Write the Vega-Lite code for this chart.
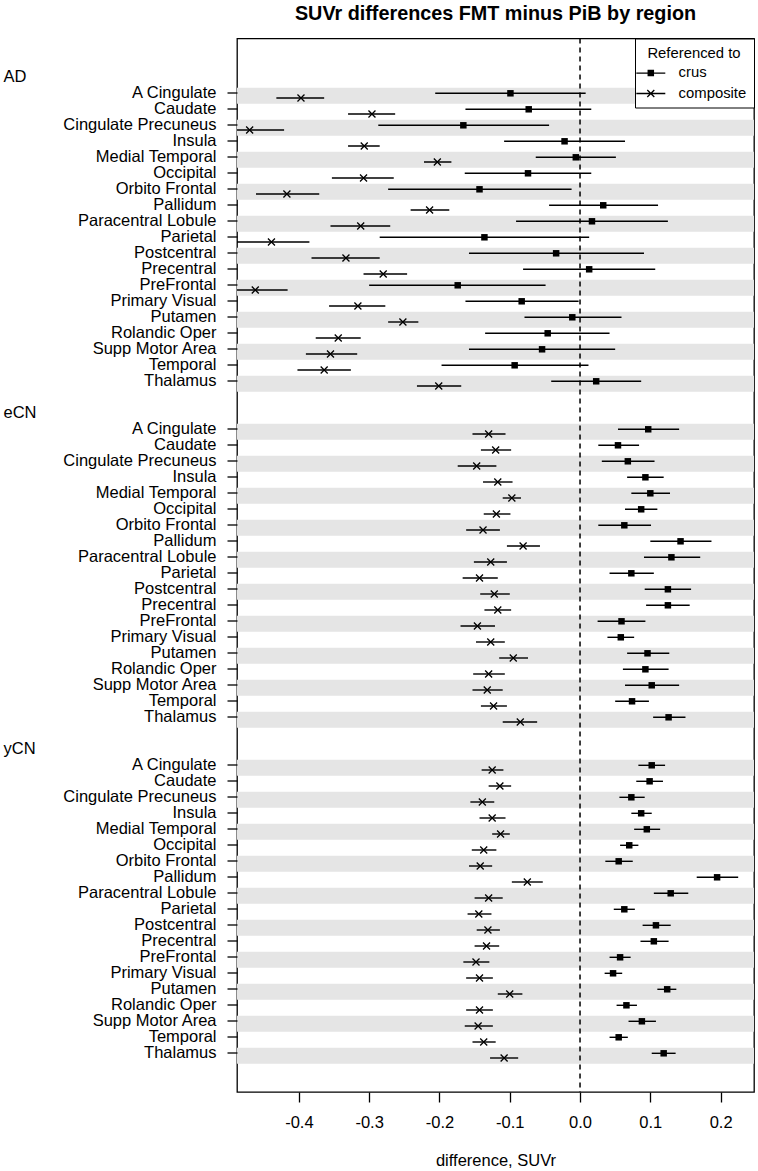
{
  "$schema": "https://vega.github.io/schema/vega-lite/v6.json",
  "width": 517,
  "height": 1053.5,
  "autosize": {"type": "none"},
  "padding": {"left": 237, "top": 38.5, "right": 4, "bottom": 79},
  "title": {"text": "SUVr differences FMT minus PiB by region", "fontSize": 19.8, "fontWeight": "bold", "anchor": "middle", "frame": "group", "offset": 14, "color": "black", "font": "Liberation Sans"},
  "config": {
    "font": "Liberation Sans",
    "view": {"stroke": "black", "strokeWidth": 1.3}
  },
  "data": {"values": [
    {"group":"AD","region":"A Cingulate","ref":"crus","est":-0.099,"lo":-0.206,"hi":0.008},
    {"group":"AD","region":"Caudate","ref":"crus","est":-0.073,"lo":-0.163,"hi":0.016},
    {"group":"AD","region":"Cingulate Precuneus","ref":"crus","est":-0.166,"lo":-0.287,"hi":-0.044},
    {"group":"AD","region":"Insula","ref":"crus","est":-0.022,"lo":-0.108,"hi":0.064},
    {"group":"AD","region":"Medial Temporal","ref":"crus","est":-0.006,"lo":-0.063,"hi":0.051},
    {"group":"AD","region":"Occipital","ref":"crus","est":-0.074,"lo":-0.164,"hi":0.016},
    {"group":"AD","region":"Orbito Frontal","ref":"crus","est":-0.143,"lo":-0.273,"hi":-0.012},
    {"group":"AD","region":"Pallidum","ref":"crus","est":0.033,"lo":-0.044,"hi":0.111},
    {"group":"AD","region":"Paracentral Lobule","ref":"crus","est":0.017,"lo":-0.091,"hi":0.125},
    {"group":"AD","region":"Parietal","ref":"crus","est":-0.136,"lo":-0.285,"hi":0.013},
    {"group":"AD","region":"Postcentral","ref":"crus","est":-0.034,"lo":-0.158,"hi":0.091},
    {"group":"AD","region":"Precentral","ref":"crus","est":0.013,"lo":-0.081,"hi":0.107},
    {"group":"AD","region":"PreFrontal","ref":"crus","est":-0.174,"lo":-0.300,"hi":-0.049},
    {"group":"AD","region":"Primary Visual","ref":"crus","est":-0.083,"lo":-0.163,"hi":-0.002},
    {"group":"AD","region":"Putamen","ref":"crus","est":-0.011,"lo":-0.079,"hi":0.059},
    {"group":"AD","region":"Rolandic Oper","ref":"crus","est":-0.046,"lo":-0.135,"hi":0.042},
    {"group":"AD","region":"Supp Motor Area","ref":"crus","est":-0.054,"lo":-0.158,"hi":0.050},
    {"group":"AD","region":"Temporal","ref":"crus","est":-0.093,"lo":-0.197,"hi":0.012},
    {"group":"AD","region":"Thalamus","ref":"crus","est":0.023,"lo":-0.041,"hi":0.087},
    {"group":"AD","region":"A Cingulate","ref":"composite","est":-0.397,"lo":-0.432,"hi":-0.364},
    {"group":"AD","region":"Caudate","ref":"composite","est":-0.296,"lo":-0.330,"hi":-0.263},
    {"group":"AD","region":"Cingulate Precuneus","ref":"composite","est":-0.470,"lo":-0.519,"hi":-0.421},
    {"group":"AD","region":"Insula","ref":"composite","est":-0.307,"lo":-0.330,"hi":-0.285},
    {"group":"AD","region":"Medial Temporal","ref":"composite","est":-0.203,"lo":-0.222,"hi":-0.183},
    {"group":"AD","region":"Occipital","ref":"composite","est":-0.308,"lo":-0.353,"hi":-0.265},
    {"group":"AD","region":"Orbito Frontal","ref":"composite","est":-0.417,"lo":-0.461,"hi":-0.371},
    {"group":"AD","region":"Pallidum","ref":"composite","est":-0.214,"lo":-0.241,"hi":-0.186},
    {"group":"AD","region":"Paracentral Lobule","ref":"composite","est":-0.312,"lo":-0.355,"hi":-0.270},
    {"group":"AD","region":"Parietal","ref":"composite","est":-0.439,"lo":-0.494,"hi":-0.385},
    {"group":"AD","region":"Postcentral","ref":"composite","est":-0.333,"lo":-0.382,"hi":-0.285},
    {"group":"AD","region":"Precentral","ref":"composite","est":-0.280,"lo":-0.308,"hi":-0.246},
    {"group":"AD","region":"PreFrontal","ref":"composite","est":-0.462,"lo":-0.508,"hi":-0.416},
    {"group":"AD","region":"Primary Visual","ref":"composite","est":-0.316,"lo":-0.357,"hi":-0.277},
    {"group":"AD","region":"Putamen","ref":"composite","est":-0.252,"lo":-0.273,"hi":-0.230},
    {"group":"AD","region":"Rolandic Oper","ref":"composite","est":-0.344,"lo":-0.376,"hi":-0.312},
    {"group":"AD","region":"Supp Motor Area","ref":"composite","est":-0.355,"lo":-0.390,"hi":-0.317},
    {"group":"AD","region":"Temporal","ref":"composite","est":-0.364,"lo":-0.402,"hi":-0.326},
    {"group":"AD","region":"Thalamus","ref":"composite","est":-0.201,"lo":-0.232,"hi":-0.169},
    {"group":"eCN","region":"A Cingulate","ref":"crus","est":0.097,"lo":0.054,"hi":0.141},
    {"group":"eCN","region":"Caudate","ref":"crus","est":0.054,"lo":0.026,"hi":0.084},
    {"group":"eCN","region":"Cingulate Precuneus","ref":"crus","est":0.068,"lo":0.031,"hi":0.106},
    {"group":"eCN","region":"Insula","ref":"crus","est":0.093,"lo":0.067,"hi":0.119},
    {"group":"eCN","region":"Medial Temporal","ref":"crus","est":0.100,"lo":0.073,"hi":0.128},
    {"group":"eCN","region":"Occipital","ref":"crus","est":0.087,"lo":0.064,"hi":0.110},
    {"group":"eCN","region":"Orbito Frontal","ref":"crus","est":0.063,"lo":0.026,"hi":0.101},
    {"group":"eCN","region":"Pallidum","ref":"crus","est":0.143,"lo":0.100,"hi":0.187},
    {"group":"eCN","region":"Paracentral Lobule","ref":"crus","est":0.130,"lo":0.091,"hi":0.171},
    {"group":"eCN","region":"Parietal","ref":"crus","est":0.073,"lo":0.042,"hi":0.105},
    {"group":"eCN","region":"Postcentral","ref":"crus","est":0.125,"lo":0.092,"hi":0.158},
    {"group":"eCN","region":"Precentral","ref":"crus","est":0.125,"lo":0.094,"hi":0.156},
    {"group":"eCN","region":"PreFrontal","ref":"crus","est":0.059,"lo":0.025,"hi":0.093},
    {"group":"eCN","region":"Primary Visual","ref":"crus","est":0.058,"lo":0.039,"hi":0.077},
    {"group":"eCN","region":"Putamen","ref":"crus","est":0.096,"lo":0.067,"hi":0.127},
    {"group":"eCN","region":"Rolandic Oper","ref":"crus","est":0.093,"lo":0.061,"hi":0.126},
    {"group":"eCN","region":"Supp Motor Area","ref":"crus","est":0.102,"lo":0.064,"hi":0.141},
    {"group":"eCN","region":"Temporal","ref":"crus","est":0.074,"lo":0.050,"hi":0.098},
    {"group":"eCN","region":"Thalamus","ref":"crus","est":0.126,"lo":0.104,"hi":0.150},
    {"group":"eCN","region":"A Cingulate","ref":"composite","est":-0.130,"lo":-0.153,"hi":-0.106},
    {"group":"eCN","region":"Caudate","ref":"composite","est":-0.120,"lo":-0.141,"hi":-0.098},
    {"group":"eCN","region":"Cingulate Precuneus","ref":"composite","est":-0.147,"lo":-0.174,"hi":-0.119},
    {"group":"eCN","region":"Insula","ref":"composite","est":-0.117,"lo":-0.138,"hi":-0.096},
    {"group":"eCN","region":"Medial Temporal","ref":"composite","est":-0.097,"lo":-0.110,"hi":-0.084},
    {"group":"eCN","region":"Occipital","ref":"composite","est":-0.119,"lo":-0.137,"hi":-0.099},
    {"group":"eCN","region":"Orbito Frontal","ref":"composite","est":-0.138,"lo":-0.162,"hi":-0.114},
    {"group":"eCN","region":"Pallidum","ref":"composite","est":-0.081,"lo":-0.104,"hi":-0.057},
    {"group":"eCN","region":"Paracentral Lobule","ref":"composite","est":-0.127,"lo":-0.151,"hi":-0.104},
    {"group":"eCN","region":"Parietal","ref":"composite","est":-0.143,"lo":-0.167,"hi":-0.117},
    {"group":"eCN","region":"Postcentral","ref":"composite","est":-0.122,"lo":-0.142,"hi":-0.100},
    {"group":"eCN","region":"Precentral","ref":"composite","est":-0.117,"lo":-0.136,"hi":-0.098},
    {"group":"eCN","region":"PreFrontal","ref":"composite","est":-0.146,"lo":-0.170,"hi":-0.121},
    {"group":"eCN","region":"Primary Visual","ref":"composite","est":-0.127,"lo":-0.148,"hi":-0.107},
    {"group":"eCN","region":"Putamen","ref":"composite","est":-0.095,"lo":-0.115,"hi":-0.074},
    {"group":"eCN","region":"Rolandic Oper","ref":"composite","est":-0.130,"lo":-0.152,"hi":-0.107},
    {"group":"eCN","region":"Supp Motor Area","ref":"composite","est":-0.132,"lo":-0.153,"hi":-0.110},
    {"group":"eCN","region":"Temporal","ref":"composite","est":-0.123,"lo":-0.141,"hi":-0.104},
    {"group":"eCN","region":"Thalamus","ref":"composite","est":-0.085,"lo":-0.110,"hi":-0.061},
    {"group":"yCN","region":"A Cingulate","ref":"crus","est":0.102,"lo":0.083,"hi":0.121},
    {"group":"yCN","region":"Caudate","ref":"crus","est":0.099,"lo":0.080,"hi":0.118},
    {"group":"yCN","region":"Cingulate Precuneus","ref":"crus","est":0.073,"lo":0.056,"hi":0.092},
    {"group":"yCN","region":"Insula","ref":"crus","est":0.087,"lo":0.073,"hi":0.102},
    {"group":"yCN","region":"Medial Temporal","ref":"crus","est":0.095,"lo":0.077,"hi":0.114},
    {"group":"yCN","region":"Occipital","ref":"crus","est":0.070,"lo":0.057,"hi":0.083},
    {"group":"yCN","region":"Orbito Frontal","ref":"crus","est":0.055,"lo":0.036,"hi":0.075},
    {"group":"yCN","region":"Pallidum","ref":"crus","est":0.195,"lo":0.166,"hi":0.225},
    {"group":"yCN","region":"Paracentral Lobule","ref":"crus","est":0.129,"lo":0.105,"hi":0.154},
    {"group":"yCN","region":"Parietal","ref":"crus","est":0.063,"lo":0.048,"hi":0.078},
    {"group":"yCN","region":"Postcentral","ref":"crus","est":0.108,"lo":0.089,"hi":0.129},
    {"group":"yCN","region":"Precentral","ref":"crus","est":0.105,"lo":0.086,"hi":0.126},
    {"group":"yCN","region":"PreFrontal","ref":"crus","est":0.057,"lo":0.042,"hi":0.072},
    {"group":"yCN","region":"Primary Visual","ref":"crus","est":0.047,"lo":0.035,"hi":0.060},
    {"group":"yCN","region":"Putamen","ref":"crus","est":0.124,"lo":0.110,"hi":0.137},
    {"group":"yCN","region":"Rolandic Oper","ref":"crus","est":0.066,"lo":0.052,"hi":0.081},
    {"group":"yCN","region":"Supp Motor Area","ref":"crus","est":0.088,"lo":0.069,"hi":0.108},
    {"group":"yCN","region":"Temporal","ref":"crus","est":0.055,"lo":0.042,"hi":0.068},
    {"group":"yCN","region":"Thalamus","ref":"crus","est":0.119,"lo":0.102,"hi":0.136},
    {"group":"yCN","region":"A Cingulate","ref":"composite","est":-0.125,"lo":-0.140,"hi":-0.109},
    {"group":"yCN","region":"Caudate","ref":"composite","est":-0.114,"lo":-0.130,"hi":-0.098},
    {"group":"yCN","region":"Cingulate Precuneus","ref":"composite","est":-0.139,"lo":-0.156,"hi":-0.122},
    {"group":"yCN","region":"Insula","ref":"composite","est":-0.125,"lo":-0.143,"hi":-0.106},
    {"group":"yCN","region":"Medial Temporal","ref":"composite","est":-0.113,"lo":-0.125,"hi":-0.100},
    {"group":"yCN","region":"Occipital","ref":"composite","est":-0.137,"lo":-0.154,"hi":-0.119},
    {"group":"yCN","region":"Orbito Frontal","ref":"composite","est":-0.142,"lo":-0.158,"hi":-0.125},
    {"group":"yCN","region":"Pallidum","ref":"composite","est":-0.075,"lo":-0.097,"hi":-0.053},
    {"group":"yCN","region":"Paracentral Lobule","ref":"composite","est":-0.130,"lo":-0.150,"hi":-0.110},
    {"group":"yCN","region":"Parietal","ref":"composite","est":-0.144,"lo":-0.160,"hi":-0.126},
    {"group":"yCN","region":"Postcentral","ref":"composite","est":-0.131,"lo":-0.147,"hi":-0.114},
    {"group":"yCN","region":"Precentral","ref":"composite","est":-0.133,"lo":-0.150,"hi":-0.115},
    {"group":"yCN","region":"PreFrontal","ref":"composite","est":-0.148,"lo":-0.166,"hi":-0.129},
    {"group":"yCN","region":"Primary Visual","ref":"composite","est":-0.143,"lo":-0.162,"hi":-0.124},
    {"group":"yCN","region":"Putamen","ref":"composite","est":-0.100,"lo":-0.117,"hi":-0.082},
    {"group":"yCN","region":"Rolandic Oper","ref":"composite","est":-0.143,"lo":-0.162,"hi":-0.124},
    {"group":"yCN","region":"Supp Motor Area","ref":"composite","est":-0.145,"lo":-0.164,"hi":-0.124},
    {"group":"yCN","region":"Temporal","ref":"composite","est":-0.137,"lo":-0.153,"hi":-0.120},
    {"group":"yCN","region":"Thalamus","ref":"composite","est":-0.108,"lo":-0.128,"hi":-0.088}
  ]},
  "transform": [{"calculate": "datum.group + '|' + datum.region", "as": "key"}],
  "layer": [
    {
      "transform": [
        {"filter": "datum.ref == 'crus'"},
        {"filter": {"field": "region", "oneOf": ["A Cingulate","Cingulate Precuneus","Medial Temporal","Orbito Frontal","Paracentral Lobule","Postcentral","PreFrontal","Putamen","Supp Motor Area","Thalamus"]}}
      ],
      "mark": {"type": "rect", "color": "#e5e5e5", "yOffset": 2.4, "y2Offset": 2.4},
      "encoding": {
        "y": {
          "field": "key", "type": "nominal",
          "scale": {"type": "band", "paddingInner": 0, "paddingOuter": 0, "range": [30.8, 1022.8], "domain": [
            "AD","AD|A Cingulate","AD|Caudate","AD|Cingulate Precuneus","AD|Insula","AD|Medial Temporal","AD|Occipital","AD|Orbito Frontal","AD|Pallidum","AD|Paracentral Lobule","AD|Parietal","AD|Postcentral","AD|Precentral","AD|PreFrontal","AD|Primary Visual","AD|Putamen","AD|Rolandic Oper","AD|Supp Motor Area","AD|Temporal","AD|Thalamus",
            "sp1","eCN","eCN|A Cingulate","eCN|Caudate","eCN|Cingulate Precuneus","eCN|Insula","eCN|Medial Temporal","eCN|Occipital","eCN|Orbito Frontal","eCN|Pallidum","eCN|Paracentral Lobule","eCN|Parietal","eCN|Postcentral","eCN|Precentral","eCN|PreFrontal","eCN|Primary Visual","eCN|Putamen","eCN|Rolandic Oper","eCN|Supp Motor Area","eCN|Temporal","eCN|Thalamus",
            "sp2","yCN","yCN|A Cingulate","yCN|Caudate","yCN|Cingulate Precuneus","yCN|Insula","yCN|Medial Temporal","yCN|Occipital","yCN|Orbito Frontal","yCN|Pallidum","yCN|Paracentral Lobule","yCN|Parietal","yCN|Postcentral","yCN|Precentral","yCN|PreFrontal","yCN|Primary Visual","yCN|Putamen","yCN|Rolandic Oper","yCN|Supp Motor Area","yCN|Temporal","yCN|Thalamus"
          ]},
          "axis": {
            "title": null, "domain": false, "grid": false, "ticks": true,
            "tickSize": 10, "tickColor": "black", "tickWidth": 1.3,
            "tickOpacity": {"condition": {"test": "indexof(datum.value, '|') < 0", "value": 0}, "value": 1},
            "labelAlign": {"condition": {"test": "indexof(datum.value, '|') < 0", "value": "left"}, "value": "right"},
            "labelPadding": {"condition": {"test": "indexof(datum.value, '|') < 0", "value": 224}, "value": 11},
            "labelExpr": "indexof(datum.value, '|') >= 0 ? split(datum.value, '|')[1] : ((datum.value == 'sp1' || datum.value == 'sp2') ? '' : datum.value)",
            "labelFontSize": 16.5, "labelColor": "black", "labelBaseline": "middle",
            "labelOverlap": false, "labelBound": false, "labelFlush": false, "labelLimit": 400
          }
        }
      }
    },
    {
      "data": {"values": [{"zero": 0}]},
      "mark": {"type": "rule", "color": "black", "strokeWidth": 1.5, "strokeDash": [5, 4]},
      "encoding": {
        "x": {"field": "zero", "type": "quantitative", "scale": {"domain": [-0.488, 0.2475], "nice": false, "zero": false},
              "axis": {"values": [-0.4,-0.3,-0.2,-0.1,0,0.1,0.2], "labelExpr": "replace(format(datum.value, '.1f'), '\u2212', '-')", "title": "difference, SUVr", "grid": false, "domain": false, "tickSize": 10, "tickColor": "black", "tickWidth": 1.3, "labelFontSize": 16.5, "labelColor": "black", "labelPadding": 12, "labelFlush": false, "labelOverlap": false, "titleFontSize": 16.5, "titleFontWeight": "normal", "titleColor": "black", "titlePadding": 22}}
      }
    },
    {
      "transform": [{"filter": "datum.ref == 'crus'"}],
      "mark": {"type": "rule", "color": "black", "strokeWidth": 1.4, "clip": true},
      "encoding": {
        "x": {"field": "lo", "type": "quantitative"},
        "x2": {"field": "hi"},
        "y": {"field": "key", "type": "nominal"}
      }
    },
    {
      "transform": [{"filter": "datum.ref == 'crus'"}],
      "mark": {"type": "point", "shape": "square", "filled": true, "color": "black", "size": 42, "opacity": 1},
      "encoding": {
        "x": {"field": "est", "type": "quantitative"},
        "y": {"field": "key", "type": "nominal"}
      }
    },
    {
      "transform": [{"filter": "datum.ref == 'composite'"}],
      "mark": {"type": "rule", "color": "black", "strokeWidth": 1.4, "clip": true, "yOffset": 4.7},
      "encoding": {
        "x": {"field": "lo", "type": "quantitative"},
        "x2": {"field": "hi"},
        "y": {"field": "key", "type": "nominal"}
      }
    },
    {
      "transform": [{"filter": "datum.ref == 'composite'"}],
      "mark": {"type": "point", "shape": "M-1,-1L1,1M-1,1L1,-1", "filled": false, "color": "black", "strokeWidth": 1.3, "size": 49, "opacity": 1, "yOffset": 4.7},
      "encoding": {
        "x": {"field": "est", "type": "quantitative"},
        "y": {"field": "key", "type": "nominal"}
      }
    },
    {
      "transform": [{"filter": "false"}],
      "mark": {"type": "point", "filled": true, "color": "black", "opacity": 1},
      "encoding": {
        "shape": {
          "field": "ref", "type": "nominal",
          "scale": {"domain": ["crus", "composite"], "range": [
            "M-1.933,-0.087H1.933V0.087H-1.933ZM-0.433,-0.433H0.433V0.433H-0.433Z",
            "M-1.933,-0.087H1.933V0.087H-1.933ZM-0.4055,-0.5285L0.5285,0.4055L0.4055,0.5285L-0.5285,-0.4055ZM-0.4055,0.5285L-0.5285,0.4055L0.4055,-0.5285L0.5285,-0.4055Z"
          ]},
          "legend": {
            "title": "Referenced to", "orient": "top-right", "offset": 0, "padding": 7,
            "strokeColor": "black", "fillColor": "white",
            "titleFontSize": 14.85, "titleFontWeight": "normal", "titleColor": "black", "titleAnchor": "middle", "titleAlign": "center", "titlePadding": 5.2,
            "labelFontSize": 14.85, "labelColor": "black", "labelOffset": 20.3,
            "symbolOffset": 1.3, "symbolSize": 225, "symbolFillColor": "black", "symbolStrokeWidth": 0, "symbolOpacity": 1,
            "rowPadding": 4.45
          }
        }
      }
    }
  ]
}
